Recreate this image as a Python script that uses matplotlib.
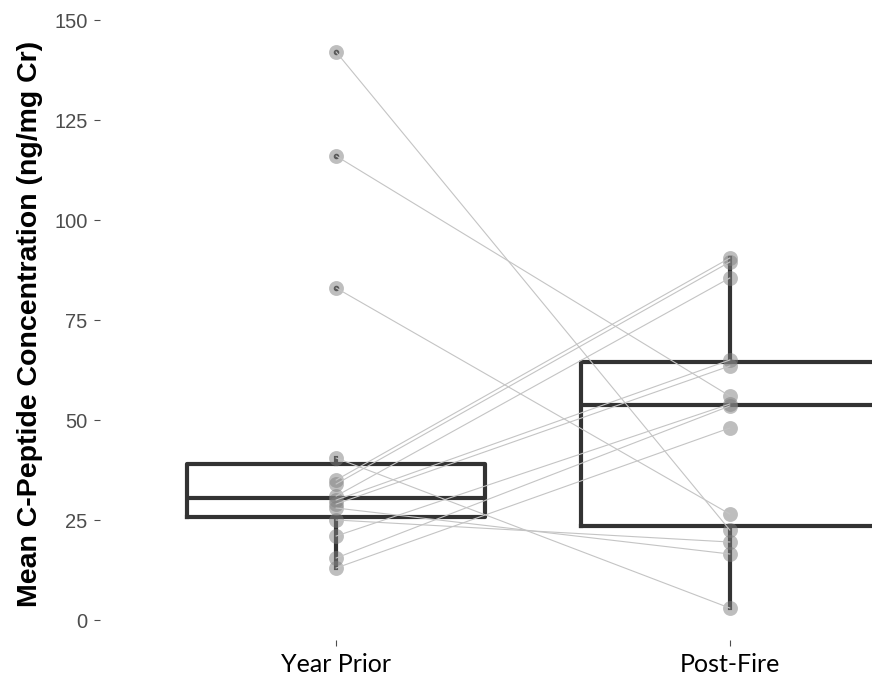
import matplotlib
matplotlib.use("Agg")
import matplotlib.pyplot as plt
import numpy as np

# paired C-peptide values (ng/mg Cr), one entry per subject
groups = ["Year Prior", "Post-Fire"]
year_prior = [142, 116, 83, 40.5, 35, 34, 31, 30, 29, 28, 25, 21, 15.5, 13]
post_fire = [22.5, 56, 26.5, 3, 90.5, 89.5, 85.5, 65, 63.5, 16.5, 19.5, 54, 53.5, 48]
y_ticks = [0, 25, 50, 75, 100, 125, 150]

fig = plt.figure(figsize=(8.72, 6.91), dpi=100)
# axes run past the right edge, the reference is cropped there
ax = fig.add_axes([0.1147, 0.0738, 0.993, 0.9146])

pos = [1, 2]
ax.boxplot([year_prior, post_fire], positions=pos, widths=0.756,
           whis=1.5, showcaps=False, patch_artist=False,
           boxprops=dict(color="#333333", linewidth=3.0),
           medianprops=dict(color="#333333", linewidth=3.0),
           whiskerprops=dict(color="#333333", linewidth=3.0),
           flierprops=dict(marker="o", markersize=3, markerfacecolor="#333333",
                           markeredgecolor="#333333"),
           zorder=1)

xs0 = np.full(len(year_prior), pos[0])
xs1 = np.full(len(post_fire), pos[1])
ax.scatter(xs0, year_prior, s=115, color="#7f7f7f", alpha=0.5, lw=0, zorder=2)
ax.scatter(xs1, post_fire, s=115, color="#7f7f7f", alpha=0.5, lw=0, zorder=2)
for a, b in zip(year_prior, post_fire):
    ax.plot(pos, [a, b], color="#c4c4c4", lw=0.8, zorder=3)

ax.set_xlim(0.4, 2.6)
ax.set_ylim(-5, 153)
ax.set_yticks(y_ticks)
ax.set_yticklabels([str(t) for t in y_ticks], fontsize=14.5, color="#4d4d4d",
                   family="Liberation Sans")
ax.set_xticks(pos)
ax.set_xticklabels(groups, fontsize=18, color="black", family="Lato")
ax.tick_params(axis="both", length=4, width=0.8, color="#4d4d4d")
ax.tick_params(axis="y", pad=5)
ax.tick_params(axis="x", pad=5)
for s in ax.spines.values():
    s.set_visible(False)
ax.set_ylabel("Mean C-Peptide Concentration (ng/mg Cr)", fontsize=20.5,
              fontweight="bold", family="Liberation Sans", labelpad=8)

fig.savefig("out.png", dpi=100)
